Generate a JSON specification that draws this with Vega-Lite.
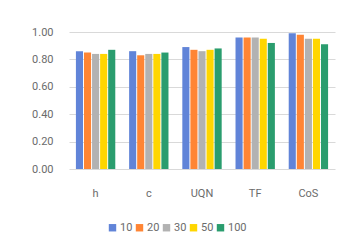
{
  "$schema": "https://vega.github.io/schema/vega-lite/v6.json",
  "width": 266,
  "height": 137,
  "autosize": {"type": "none"},
  "padding": {"left": 69, "top": 32, "right": 2, "bottom": 74},
  "background": "white",
  "config": {
    "view": {"stroke": null},
    "font": "Roboto",
    "axis": {"labelColor": "#6b6b6b", "labelFont": "Roboto", "labelFontSize": 11}
  },
  "data": {
    "values": [
      {"method": "h", "k": "10", "v": 0.86},
      {"method": "h", "k": "20", "v": 0.85},
      {"method": "h", "k": "30", "v": 0.84},
      {"method": "h", "k": "50", "v": 0.84},
      {"method": "h", "k": "100", "v": 0.87},
      {"method": "c", "k": "10", "v": 0.86},
      {"method": "c", "k": "20", "v": 0.83},
      {"method": "c", "k": "30", "v": 0.84},
      {"method": "c", "k": "50", "v": 0.84},
      {"method": "c", "k": "100", "v": 0.85},
      {"method": "UQN", "k": "10", "v": 0.89},
      {"method": "UQN", "k": "20", "v": 0.87},
      {"method": "UQN", "k": "30", "v": 0.86},
      {"method": "UQN", "k": "50", "v": 0.87},
      {"method": "UQN", "k": "100", "v": 0.88},
      {"method": "TF", "k": "10", "v": 0.96},
      {"method": "TF", "k": "20", "v": 0.96},
      {"method": "TF", "k": "30", "v": 0.96},
      {"method": "TF", "k": "50", "v": 0.95},
      {"method": "TF", "k": "100", "v": 0.92},
      {"method": "CoS", "k": "10", "v": 0.99},
      {"method": "CoS", "k": "20", "v": 0.98},
      {"method": "CoS", "k": "30", "v": 0.95},
      {"method": "CoS", "k": "50", "v": 0.95},
      {"method": "CoS", "k": "100", "v": 0.91}
    ]
  },
  "mark": {"type": "bar"},
  "encoding": {
    "x": {
      "field": "method", "type": "nominal",
      "sort": ["h", "c", "UQN", "TF", "CoS"],
      "scale": {"paddingInner": 0.26, "paddingOuter": 0.13},
      "axis": {"title": null, "labelAngle": 0, "ticks": false, "domain": false, "labelPadding": 18}
    },
    "xOffset": {
      "field": "k", "type": "nominal",
      "sort": ["10", "20", "30", "50", "100"],
      "scale": {"paddingInner": 0.12}
    },
    "y": {
      "field": "v", "type": "quantitative",
      "scale": {"domain": [0, 1]},
      "axis": {"title": null, "format": ".2f", "values": [0, 0.2, 0.4, 0.6, 0.8, 1.0], "ticks": false, "domain": false, "labelPadding": 16, "gridColor": "#d9d9d9"}
    },
    "color": {
      "field": "k", "type": "nominal",
      "sort": ["10", "20", "30", "50", "100"],
      "scale": {"domain": ["10", "20", "30", "50", "100"], "range": ["#6184d8", "#ff8534", "#b2b2b2", "#ffd600", "#2a9d6e"]},
      "legend": {
        "title": null, "orient": "none", "direction": "horizontal",
        "legendX": 38, "legendY": 190,
        "symbolType": "square", "symbolSize": 55, "symbolStrokeWidth": 0,
        "labelColor": "#6b6b6b", "labelFontSize": 11, "labelOffset": 2,
        "columnPadding": 1, "symbolOpacity": 1
      }
    }
  }
}
